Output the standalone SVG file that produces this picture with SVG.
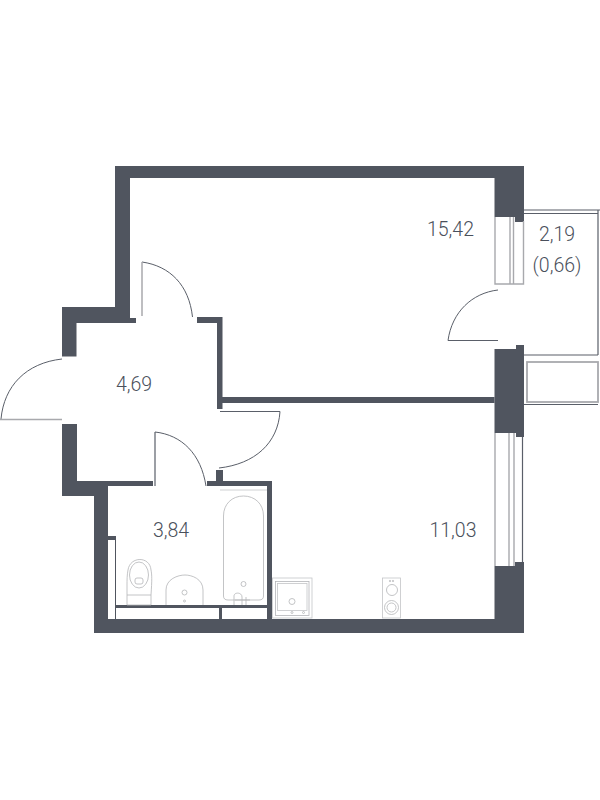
<svg xmlns="http://www.w3.org/2000/svg" width="600" height="800" viewBox="0 0 600 800">
<style>
.wall{fill:#50555f}
.lbl{font-family:Roboto,"Liberation Sans",sans-serif;font-weight:300;font-size:19.5px;fill:#4a505b;text-anchor:middle}
.arc{fill:none;stroke:#5a5f69;stroke-width:1}
.leaf{fill:none;stroke:#a8a9ad;stroke-width:1.5}
.leafd{fill:none;stroke:#5a5f69;stroke-width:1.2}
.win{fill:none;stroke:#a8a9ad;stroke-width:1.4}
.thin{fill:none;stroke:#c4c5c8;stroke-width:.8}
.fix{fill:none;stroke:#b4b5b8;stroke-width:.8}
</style>
<rect width="600" height="800" fill="#fff"/>
<g id="walls">
<path class="wall" d="M115 166H524V222H515V217H494.5V178H130V318H136V323H76.500V356.500H62V307H115Z"/>
<path class="wall" d="M494.500 349H516V345H524V437H516V433H494.500Z"/>
<path class="wall" d="M197 317H222.500V397H494.500V403H222.500V409H217V323H197Z"/>
<path class="wall" d="M62 424H77V481H153V486H108V619H267V486H207V481H216V470H223V481H272V619H494.500V566H515V562H524V633H94V496H62Z"/>
<path class="wall" d="M108 536H116V605H267V608H222V619H219V608H116V619H115V540H108Z"/>
</g>
<g id="connectors">
<path class="arc" d="M62 359C26 363 4 386 1 419"/>
<path class="leaf" d="M0 419.500H62"/>
<path class="arc" d="M142 262C170 266 189 285 192.500 317"/>
<path class="leaf" d="M142 262V316"/>
<path class="arc" d="M280 411.500C278 443 255 464 219 468"/>
<path class="leafd" d="M220 411.500H280"/>
<path class="arc" d="M155 432C182 435 201 454 206 486"/>
<path class="leafd" d="M155 432V486"/>
<path class="arc" d="M498 290C472 293 452 312 448 340.500"/>
<path class="leafd" d="M448 340.500H498"/>
</g>
<g id="windows">
<path class="win" d="M495 217V284H523.500V221M510 217V284M513.500 217V284"/>
<path class="win" d="M495 433V566M509 433V566M514 433V566"/>
<path class="leafd" d="M522.500 437V562"/>
<path class="leafd" d="M524 210H600M524 213.500H598M598 210V355M524 355H598M524 404.500H598"/>
<rect x="527" y="362" width="71" height="40" fill="none" stroke="#a8a9ad" stroke-width="1.800"/>
</g>
<g id="bath">
<path class="thin" d="M220 490H267"/>
<path class="fix" d="M223.500 516C223.500 504 232 496 243.500 496S263.500 504 263.500 516V596Q263.500 600 259 600H228Q223.500 600 223.500 596Z"/>
<circle class="fix" cx="243.500" cy="584" r="2.500"/>
<path class="fix" d="M234 605V596C234 592 242 592 242 597V605M246 605V597M235 600H250"/>
</g>
<g id="toilet">
<path class="fix" d="M127 595V586C127 580 127 575 128 570C130 556 150 556 151 570C152 575 152 580 151 595M127 595H151V605H127Z"/>
<ellipse class="fix" cx="139" cy="575" rx="9.500" ry="13"/>
<rect class="fix" x="135" y="578" width="8" height="6" rx="2"/>
</g>
<g id="sink">
<path class="fix" d="M166 605V590C166 579 178 575 185 575S203 579 203 590V605"/>
<circle class="fix" cx="184.500" cy="592.500" r="2.500"/>
<circle class="fix" cx="184.500" cy="601" r="1"/>
</g>
<g id="washer">
<rect class="thin" x="272.500" y="578" width="39.500" height="40"/>
<rect class="fix" x="275.500" y="581.500" width="33.500" height="34"/>
<rect class="thin" x="277.500" y="583.500" width="29.500" height="27"/>
<circle class="fix" cx="292" cy="601.500" r="3"/>
<circle class="fix" cx="292" cy="612.500" r="1"/>
<circle class="fix" cx="303.500" cy="612.500" r="1"/>
</g>
<g id="stove">
<rect class="thin" x="382.500" y="578" width="18" height="40"/>
<circle class="fix" cx="392" cy="590" r="5.500"/>
<circle class="fix" cx="391.500" cy="607.500" r="7"/>
<circle class="fix" cx="391.500" cy="607.500" r="4.500"/>
<circle class="fix" cx="390" cy="581" r=".7"/>
<circle class="fix" cx="393" cy="581" r=".7"/>
</g>
<g id="labels">
<text class="lbl" x="450.500" y="236">15,42</text>
<text class="lbl" x="557" y="241">2,19</text>
<text class="lbl" x="557" y="272">(0,66)</text>
<text class="lbl" x="134" y="391">4,69</text>
<text class="lbl" x="171" y="537">3,84</text>
<text class="lbl" x="453" y="537">11,03</text>
</g>
</svg>
